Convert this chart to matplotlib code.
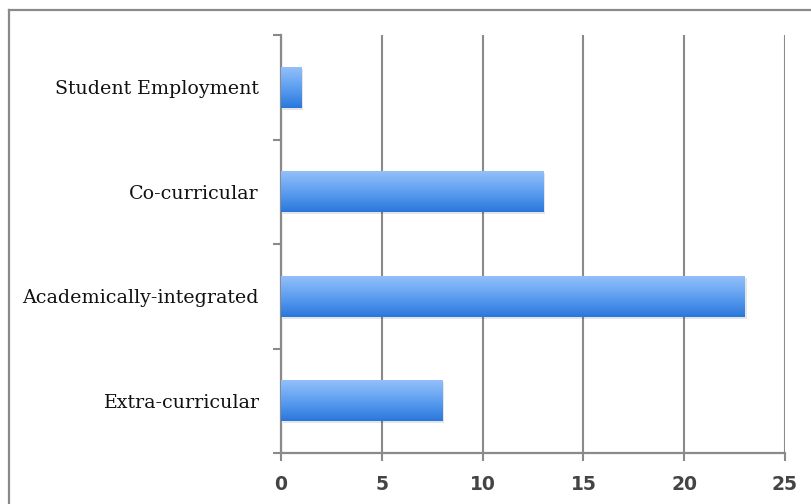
import numpy as np
import matplotlib
matplotlib.use('Agg')
import matplotlib.pyplot as plt
from matplotlib.lines import Line2D
from matplotlib import transforms
from matplotlib.colors import LinearSegmentedColormap

# data, bottom to top as drawn
categories = ['Extra-curricular', 'Academically-integrated', 'Co-curricular', 'Student Employment']
values = [8, 23, 13, 1]
xticks = [0, 5, 10, 15, 20, 25]

W, H = 811, 504
fig = plt.figure(figsize=(W / 100, H / 100), dpi=100)
fig.patch.set_facecolor('white')

# axes box in pixels: left 281, right 785, top 35, bottom 453
ax = fig.add_axes([281 / W, 1 - 453 / H, (785 - 281) / W, (453 - 35) / H])

pos = np.arange(len(categories))
bar_h = 0.39

# soft shadow, shifted a couple of pixels
shadow = transforms.offset_copy(ax.transData, fig=fig, x=2, y=-2, units='dots')
ax.barh(pos, values, height=bar_h, color='black', alpha=0.10, transform=shadow, zorder=2)

bars = ax.barh(pos, values, height=bar_h, color='#5b9bef', zorder=3)

# vertical gradient inside each bar
grad_cmap = LinearSegmentedColormap.from_list('blu', ['#2a77dc', '#5e9ff0', '#92bffa'])
grad = np.linspace(0, 1, 64).reshape(-1, 1)
for b in bars:
    x0, y0 = b.get_x(), b.get_y()
    im = ax.imshow(grad, cmap=grad_cmap, aspect='auto', origin='lower',
                   extent=(x0, x0 + b.get_width(), y0, y0 + b.get_height()), zorder=4)
    im.set_clip_path(b)

ax.set_xlim(0, 25)
ax.set_ylim(-0.5, len(categories) - 0.5)

ax.set_xticks(xticks)
ax.set_xticklabels([str(t) for t in xticks], fontsize=13.5, color='#444444', weight='bold',
                   family=['DejaVu Sans'])
ax.tick_params(axis='x', direction='out', length=6, width=1.5, color='#8a8a8a', pad=10)

# ticks at category boundaries, labels at centers
ax.set_yticks(np.arange(-0.5, len(categories), 1.0))
ax.set_yticklabels([])
ax.set_yticks(pos, minor=True)
ax.set_yticklabels(categories, minor=True, fontsize=13.7, color='#111111',
                   family=['DejaVu Serif'])
ax.tick_params(axis='y', which='major', direction='out', length=6, width=1.5, color='#8a8a8a')
ax.tick_params(axis='y', which='minor', length=0, pad=16)

ax.xaxis.grid(True, color='#8a8a8a', linewidth=1.5, zorder=1)
ax.set_axisbelow(True)

for s in ['top', 'right']:
    ax.spines[s].set_visible(False)
for s in ['left', 'bottom']:
    ax.spines[s].set_color('#8a8a8a')
    ax.spines[s].set_linewidth(1.6)

# outer frame (only top and left edges are visible in the crop)
fig.add_artist(Line2D([8.5 / W, 1], [1 - 9.5 / H, 1 - 9.5 / H], color='#8a8a8a', lw=1.6,
                      transform=fig.transFigure))
fig.add_artist(Line2D([8.5 / W, 8.5 / W], [0, 1 - 9.5 / H], color='#8a8a8a', lw=1.6,
                      transform=fig.transFigure))

fig.savefig('out.png', dpi=100)
